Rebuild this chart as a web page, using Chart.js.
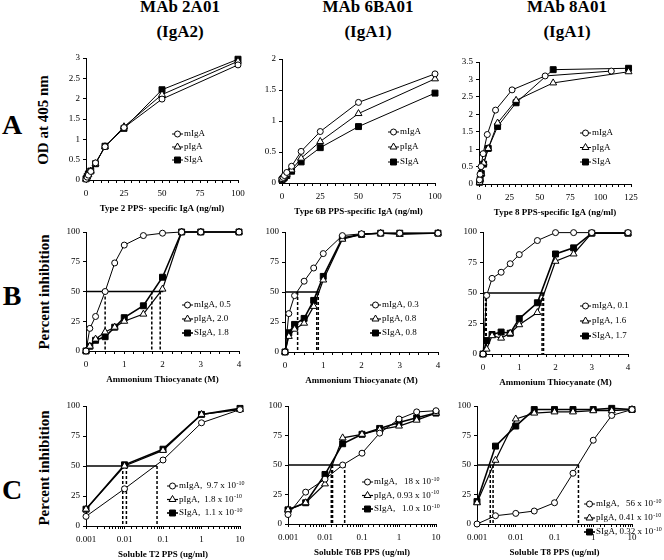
<!DOCTYPE html>
<html>
<head>
<meta charset="utf-8">
<script src="https://cdn.jsdelivr.net/npm/chart.js@4.4.0/dist/chart.umd.min.js"></script>
<style>
  body { margin: 0; background: #fff; }
  #page { position: relative; width: 664px; height: 560px; overflow: hidden; font-family: "Liberation Serif", "Times New Roman", serif; color: #000; }
  .head { position: absolute; width: 160px; margin-left: -80px; text-align: center; font-weight: bold; font-size: 17px; line-height: 25px; top: -6px; }
  .lbl { position: absolute; font-weight: bold; white-space: nowrap; transform: translate(-50%, -50%); }
  .ytitle { position: absolute; font-weight: bold; font-size: 15px; white-space: nowrap; transform: translate(-50%, -50%) rotate(-90deg); }
  canvas { position: absolute; }
</style>
</head>
<body>
<div id="page">
  <div class="head" style="left:180px">MAb 2A01<br>(IgA2)</div>
  <div class="head" style="left:368px">MAb 6BA01<br>(IgA1)</div>
  <div class="head" style="left:567px">MAb 8A01<br>(IgA1)</div>
  <div class="lbl" style="left:12px; top:125px; font-size:28px">A</div>
  <div class="lbl" style="left:12px; top:296px; font-size:28px">B</div>
  <div class="lbl" style="left:12px; top:490px; font-size:28px">C</div>
  <div class="ytitle" style="left:43px; top:120px">OD at 405 nm</div>
  <div class="ytitle" style="left:44px; top:292px">Percent inhibition</div>
  <div class="ytitle" style="left:44px; top:468px">Percent inhibition</div>
</div>
<script>
Chart.defaults.font.family = '"Liberation Serif", "Times New Roman", serif';
Chart.defaults.color = '#000';

const seriesNames = ['mIgA', 'pIgA', 'SIgA'];

// Row A: binding (OD at 405 nm) vs PPS-specific IgA (ng/ml)
const a1Conc = [0, 0.78, 1.56, 3.13, 6.25, 12.5, 25, 50, 100];
const a1MIgA = [0.02, 0.07, 0.12, 0.21, 0.42, 0.82, 1.29, 1.99, 2.83];
const a1PIgA = [0.02, 0.08, 0.13, 0.22, 0.40, 0.82, 1.31, 2.10, 2.92];
const a1SIgA = [0.03, 0.09, 0.15, 0.22, 0.40, 0.83, 1.27, 2.22, 2.97];

const a2Conc = [0, 0.78, 1.56, 3.13, 6.25, 12.5, 25, 50, 100];
const a2MIgA = [0.07, 0.09, 0.12, 0.17, 0.27, 0.51, 0.83, 1.30, 1.76];
const a2PIgA = [0.06, 0.08, 0.10, 0.14, 0.21, 0.40, 0.67, 1.12, 1.68];
const a2SIgA = [0.05, 0.07, 0.09, 0.12, 0.19, 0.34, 0.57, 0.91, 1.45];

const a3ConcM = [0.43, 0.85, 1.7, 3.4, 6.8, 13.6, 27.2, 54.4, 108.8];
const a3ConcPS = [0.48, 0.95, 1.9, 3.8, 7.6, 15.3, 30.5, 61, 123];
const a3MIgA = [0.12, 0.28, 0.5, 0.87, 1.42, 2.12, 2.7, 3.1, 3.24];
const a3PIgA = [0.05, 0.14, 0.3, 0.6, 1.02, 1.75, 2.4, 2.9, 3.22];
const a3SIgA = [0.05, 0.13, 0.3, 0.57, 1.02, 1.65, 2.33, 3.28, 3.32];

// Row B: percent inhibition vs ammonium thiocyanate (M)
const bConc = [0, 0.1, 0.25, 0.5, 0.75, 1, 1.5, 2, 2.5, 3, 4];
const b1MIgA = [0, 19, 29, 50, 74, 89, 97, 99, 100, 100, 100];
const b1PIgA = [0, 4, 10, 16, 20, 25, 31, 52, 100, 100, 100];
const b1SIgA = [0, 4, 9, 12, 20, 28, 38, 62, 100, 100, 100];
const b1Legend = ['0.5', '2.0', '1.8'];
const b1Drops = [0.5, 1.72, 1.94];
const b1HalfEnd = 2.02;

const b2MIgA = [0, 32, 47, 59, 70, 82, 97, 98.5, 99, 99, 99];
const b2PIgA = [0, 13, 19, 24, 38, 60, 94, 98, 99, 98, 99];
const b2SIgA = [0, 16, 23, 28, 43, 63, 95, 98, 99, 99, 99];
const b2Legend = ['0.3', '0.8', '0.8'];
const b2Drops = [0.33, 0.83, 0.87];
const b2HalfEnd = 0.9;

const b3MIgA = [0, 48, 62, 67, 74, 81.5, 93, 99.5, 99.5, 99.5, 99.5];
const b3PIgA = [0, 4, 15, 13, 17, 24, 34, 76, 82, 99, 99];
const b3SIgA = [0, 11, 16, 18, 17, 29, 42, 82, 87, 99, 99];
const b3Legend = ['0.1', '1.6', '1.7'];
const b3Drops = [0.07, 0.09, 1.63, 1.67];
const b3HalfEnd = 1.68;

// Row C: percent inhibition vs soluble PPS (ug/ml)
const c1Conc = [0.001, 0.01, 0.1, 1, 10];
const c1MIgA = [8, 31, 55, 86, 97];
const c1PIgA = [14, 50, 63, 93, 97];
const c1SIgA = [14, 51, 64, 93, 98];
const c1Legend = ['  9.7', '  1.8', '  1.1'];
const c1Drops = [0.009, 0.0112, 0.07];
const c1HalfEnd = 0.07;

const cConc = [0.001, 0.003, 0.01, 0.03, 0.1, 0.3, 1, 3, 10];
const c2MIgA = [8, 27, 38, 50, 60, 77, 89, 95, 96];
const c2PIgA = [12, 18, 34, 73, 76, 80, 83, 88, 94];
const c2SIgA = [12, 18, 42, 68, 76, 81, 86, 90, 94];
const c2Legend = ['   18', ' 0.93', '   1.0'];
const c2Drops = [0.0148, 0.016, 0.034];
const c2HalfEnd = 0.034;

const c3MIgA = [0, 7, 9, 11, 18, 43, 71, 92, 97];
const c3PIgA = [18, 54, 89, 94, 95, 95, 96, 96, 97];
const c3SIgA = [19, 66, 83, 97, 97, 97, 97, 98, 97];
const c3Legend = ['   56', ' 0.41', ' 0.32'];
const c3Drops = [0.0022, 0.0026, 0.415];
const c3HalfEnd = 0.415;

const styles = [
  { pointStyle: 'circle', radius: 3, fill: '#fff', width: 1 },
  { pointStyle: 'triangle', radius: 4, fill: '#fff', width: 1.2 },
  { pointStyle: 'rect', radius: 4.2, fill: '#000', width: 1.6 }
];

const plainRows = seriesNames.map(n => ({ text: n }));
const valueRows = vals => seriesNames.map((n, i) => ({ text: n + ', ' + vals[i] }));
const expRows = vals => seriesNames.map((n, i) => ({ text: n + ',' + vals[i] + ' x 10', sup: '-10' }));

const panels = [
  { area: [86, 58, 238, 180], xMin: 0, xMax: 100, xStep: 5, xMajor: 25, yMax: 3, yStep: 0.5,
    xTitle: 'Type 2 PPS- specific IgA (ng/ml)', xs: [a1Conc, a1Conc, a1Conc], ys: [a1MIgA, a1PIgA, a1SIgA],
    legend: { x: 86, y: 76, gap: 13, rows: plainRows }, thin: true },
  { area: [282, 59, 435, 183], xMin: 0, xMax: 100, xStep: 5, xMajor: 25, yMax: 2, yStep: 0.5,
    xTitle: 'Type 6B PPS-specific IgA (ng/ml)', xs: [a2Conc, a2Conc, a2Conc], ys: [a2MIgA, a2PIgA, a2SIgA],
    legend: { x: 106, y: 73, gap: 15, rows: plainRows }, thin: true },
  { area: [479, 62, 631, 184], xMin: 0, xMax: 125, xStep: 5, xMajor: 25, yMax: 3.5, yStep: 0.5,
    xTitle: 'Type 8 PPS-specific IgA (ng/ml)', xs: [a3ConcM, a3ConcPS, a3ConcPS], ys: [a3MIgA, a3PIgA, a3SIgA],
    legend: { x: 101, y: 71, gap: 14.5, rows: plainRows }, thin: true },
  { area: [86, 232, 239, 351], xMin: 0, xMax: 4, xStep: 0.25, xMajor: 1, yMax: 100, yStep: 25,
    xTitle: 'Ammonium Thiocyanate (M)', xs: [bConc, bConc, bConc], ys: [b1MIgA, b1PIgA, b1SIgA],
    legend: { x: 96, y: 73, gap: 14, rows: valueRows(b1Legend) }, halfEnd: b1HalfEnd, drops: b1Drops },
  { area: [285, 232, 438, 352], xMin: 0, xMax: 4, xStep: 0.25, xMajor: 1, yMax: 100, yStep: 25,
    xTitle: 'Ammonium Thiocyanate (M)', xs: [bConc, bConc, bConc], ys: [b2MIgA, b2PIgA, b2SIgA],
    legend: { x: 85, y: 73, gap: 14, rows: valueRows(b2Legend) }, halfEnd: b2HalfEnd, drops: b2Drops },
  { area: [483, 232, 628, 354], xMin: 0, xMax: 4, xStep: 0.25, xMajor: 1, yMax: 100, yStep: 25,
    xTitle: 'Ammonium Thiocyanate (M)', xs: [bConc, bConc, bConc], ys: [b3MIgA, b3PIgA, b3SIgA],
    legend: { x: 97, y: 74, gap: 15, rows: valueRows(b3Legend) }, halfEnd: b3HalfEnd, drops: b3Drops },
  { area: [86, 406, 240, 526], log: true, xMin: 0.001, xMax: 10, yMax: 100, yStep: 25, pr: 24,
    xTitle: 'Soluble T2 PPS (ug/ml)', xs: [c1Conc, c1Conc, c1Conc], ys: [c1MIgA, c1PIgA, c1SIgA],
    legend: { x: 81, y: 80, gap: 13.5, rows: expRows(c1Legend) }, halfEnd: c1HalfEnd, drops: c1Drops },
  { area: [288, 406, 436, 524], log: true, xMin: 0.001, xMax: 10, yMax: 100, yStep: 25, pr: 24,
    xTitle: 'Soluble T6B PPS (ug/ml)', xs: [cConc, cConc, cConc], ys: [c2MIgA, c2PIgA, c2SIgA],
    legend: { x: 74, y: 76, gap: 13.5, rows: expRows(c2Legend) }, halfEnd: c2HalfEnd, drops: c2Drops },
  { area: [477, 406, 632, 524], log: true, xMin: 0.001, xMax: 10, yMax: 100, yStep: 25, pr: 32,
    xTitle: 'Soluble T8 PPS (ug/ml)', xs: [cConc, cConc, cConc], ys: [c3MIgA, c3PIgA, c3SIgA],
    legend: { x: 107, y: 98, gap: 14, rows: expRows(c3Legend) }, halfEnd: c3HalfEnd, drops: c3Drops }
];

// legend drawn inside the plot area, like the original figure
const insetLegend = {
  id: 'insetLegend',
  afterDatasetsDraw(chart, args, opts) {
    if (!opts.rows) return;
    const { ctx, chartArea } = chart;
    ctx.save();
    opts.rows.forEach((row, i) => {
      const st = styles[i];
      const x0 = chartArea.left + opts.x;
      const y = chartArea.top + opts.y + i * opts.gap;
      ctx.strokeStyle = '#000';
      ctx.lineWidth = opts.thin ? 1 : st.width;
      ctx.beginPath();
      ctx.moveTo(x0, y);
      ctx.lineTo(x0 + 11, y);
      ctx.stroke();
      ctx.fillStyle = st.fill;
      ctx.lineWidth = 1;
      Chart.helpers.drawPoint(ctx, { pointStyle: st.pointStyle, radius: st.radius, rotation: 0, borderWidth: 1 }, x0 + 5.5, y);
      ctx.fillStyle = '#000';
      ctx.font = '9px "Liberation Serif", serif';
      ctx.textBaseline = 'middle';
      ctx.textAlign = 'left';
      ctx.fillText(row.text, x0 + 12, y);
      if (row.sup) {
        const w = ctx.measureText(row.text).width;
        ctx.font = '6px "Liberation Serif", serif';
        ctx.fillText(row.sup, x0 + 12 + w + 0.5, y - 3);
      }
    });
    ctx.restore();
  }
};

const page = document.getElementById('page');

panels.forEach(p => {
  const YW = 30, PT = 10, XH = 36;
  const PR = p.pr || 14;
  const [L, T, R, B] = p.area;
  const cv = document.createElement('canvas');
  cv.width = R - L + YW + PR;
  cv.height = B - T + PT + XH;
  cv.style.left = (L - YW) + 'px';
  cv.style.top = (T - PT) + 'px';
  page.appendChild(cv);

  const datasets = p.ys.map((ys, i) => ({
    label: seriesNames[i],
    data: ys.map((y, j) => ({ x: p.xs[i][j], y })),
    borderColor: '#000',
    borderWidth: p.thin ? 1 : styles[i].width,
    pointStyle: styles[i].pointStyle,
    pointRadius: styles[i].radius,
    pointBackgroundColor: styles[i].fill,
    pointBorderColor: '#000',
    pointBorderWidth: 1,
    tension: 0,
    fill: false,
    clip: false
  }));

  if (p.drops) {
    datasets.push({
      data: [{ x: p.xMin, y: 50 }, { x: p.halfEnd, y: 50 }],
      borderColor: '#000', borderWidth: 1.5, pointRadius: 0, clip: false
    });
    p.drops.forEach(d => datasets.push({
      data: [{ x: d, y: 50 }, { x: d, y: 0 }],
      borderColor: '#000', borderWidth: 1.5, borderDash: [3, 2], pointRadius: 0, clip: false
    }));
  }

  const axisGrid = { display: true, drawOnChartArea: false, drawTicks: true, tickLength: 3, color: '#000', lineWidth: 1 };
  const xScale = p.log ? {
    type: 'logarithmic', min: p.xMin, max: p.xMax,
    ticks: {
      autoSkip: false, maxRotation: 0, padding: 5, font: { size: 9 },
      callback: v => {
        const e = Math.round(Math.log10(v));
        return Math.abs(Math.log10(v) - e) < 1e-6 ? String(Math.pow(10, e)) : '';
      }
    }
  } : {
    type: 'linear', min: p.xMin, max: p.xMax,
    ticks: {
      stepSize: p.xStep, maxTicksLimit: 200, autoSkip: false, maxRotation: 0, padding: 5, font: { size: 9 },
      callback: v => {
        const r = v / p.xMajor;
        return Math.abs(r - Math.round(r)) < 1e-6 ? String(Math.round(v * 100) / 100) : '';
      }
    }
  };
  Object.assign(xScale, {
    position: 'bottom',
    border: { display: true, color: '#000', width: 1 },
    grid: axisGrid,
    title: { display: true, text: p.xTitle, font: { size: 9, weight: 'bold' }, padding: { top: 0, bottom: 2 } },
    afterFit: s => { s.height = XH; }
  });

  new Chart(cv, {
    type: 'line',
    data: { datasets },
    plugins: [insetLegend],
    options: {
      responsive: false,
      animation: false,
      layout: { padding: { top: PT, right: PR, left: 0, bottom: 0 } },
      plugins: {
        legend: { display: false },
        tooltip: { enabled: false },
        insetLegend: Object.assign({ thin: !!p.thin }, p.legend)
      },
      scales: {
        x: xScale,
        y: {
          type: 'linear', min: 0, max: p.yMax,
          border: { display: true, color: '#000', width: 1 },
          grid: axisGrid,
          ticks: { stepSize: p.yStep, padding: 3, font: { size: 9 },
            callback: v => String(Math.round(v * 100) / 100) },
          afterFit: s => { s.width = YW; }
        }
      }
    }
  });
});
</script>
</body>
</html>
